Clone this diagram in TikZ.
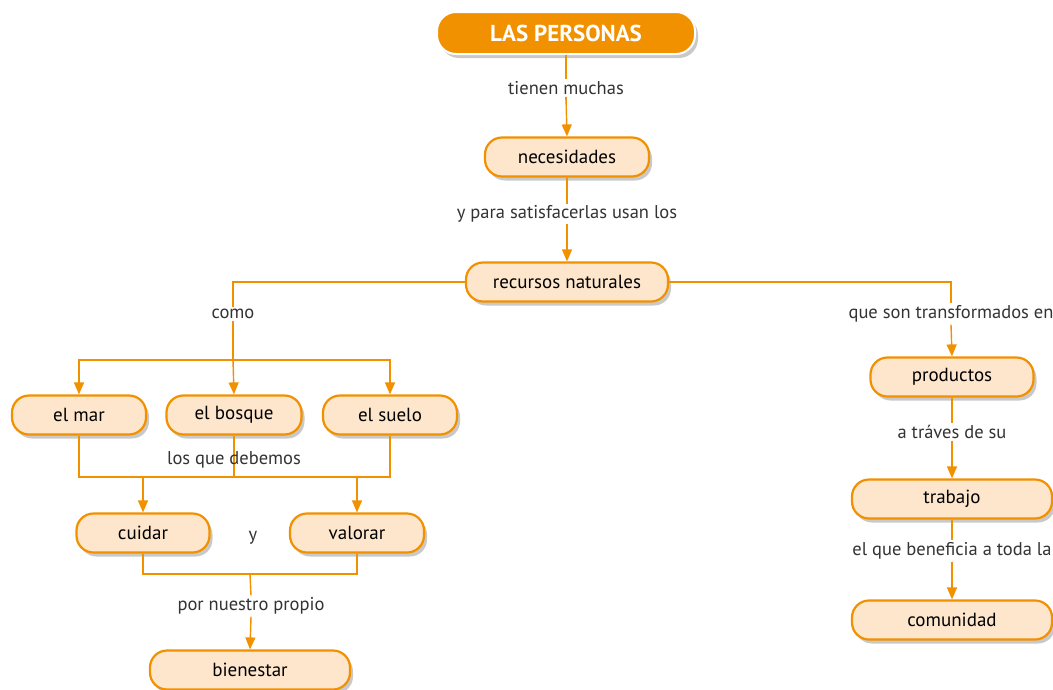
\documentclass[tikz,border=0pt]{standalone}
\usepackage{fontspec}
\setmainfont{PT Sans}
\usetikzlibrary{arrows.meta,shadows}
\definecolor{orng}{HTML}{F29100}
\definecolor{peach}{HTML}{FDE6CC}
\definecolor{lbl}{HTML}{333333}
\tikzset{
  box/.style={draw=orng, line width=2.2pt, fill=peach, rounded corners=17pt,
    minimum height=39pt, inner sep=0pt, text=black,
    font=\fontsize{19}{22}\selectfont,
    drop shadow={shadow xshift=3pt, shadow yshift=-4pt, opacity=0.35, fill=black!60}},
  topbox/.style={draw=white, line width=2pt, fill=orng, rounded corners=19pt,
    minimum width=258pt, minimum height=42pt, inner sep=0pt, text=white,
    font=\fontsize{23}{26}\selectfont\bfseries,
    drop shadow={shadow xshift=3pt, shadow yshift=-4pt, opacity=0.35, fill=black!60}},
  lab/.style={text=lbl, font=\fontsize{18.5}{21}\selectfont, inner sep=2pt},
  labw/.style={lab, fill=white},
  conn/.style={draw=orng, line width=1.4pt},
  arr/.style={conn, -{Triangle[width=10pt,length=12pt]}},
}
\begin{document}
\begin{tikzpicture}[x=1pt,y=-1pt]
\useasboundingbox (0,0) rectangle (1053,689);
\fill[white] (0,0) rectangle (1053,689);

% nodes
\node[topbox] (per) at (566,33) {LAS PERSONAS};
\node[box, minimum width=164pt] (nec) at (567,157) {necesidades};
\node[box, minimum width=202pt] (rec) at (567,282) {recursos naturales};
\node[box, minimum width=134pt] (mar) at (79,415) {el mar};
\node[box, minimum width=135pt] (bos) at (234,415) {el bosque};
\node[box, minimum width=134pt] (sue) at (390,415) {el suelo};
\node[box, minimum width=133pt] (cui) at (143,533) {cuidar};
\node[box, minimum width=134pt] (val) at (357,533) {valorar};
\node[box, minimum width=200pt] (bie) at (250,670) {bienestar};
\node[box, minimum width=163pt] (pro) at (952,377) {productos};
\node[box, minimum width=200pt] (tra) at (952,499) {trabajo};
\node[box, minimum width=200pt] (com) at (952,620) {comunidad};

% coordinates
\coordinate (jL) at (233,360);
\coordinate (jD) at (234,477);
\coordinate (jB) at (250,574);

% connectors and labels
\draw[conn] (per.south) -- (566,100);
\node[labw] (l1) at (566,88) {tienen muchas};
\draw[arr] (l1.south) -- (nec.north);

\draw[conn] (nec.south) -- (567,225);
\node[labw] (l2) at (567,214) {y para satisfacerlas usan los};
\draw[arr] (l2.south) -- (rec.north);

\node[labw] (l3) at (233,314) {como};
\draw[conn] (rec.west) -| (l3.north);
\draw[conn] (l3.south) -- (jL);
\draw[arr] (jL) -| (mar.north);
\draw[arr] (jL) -- (bos.north);
\draw[arr] (jL) -| (sue.north);

\node[labw] (l4) at (951,314) {que son transformados en};
\draw[conn] (rec.east) -| (l4.north);
\draw[arr] (l4.south) -- (pro.north);

\draw[conn] (mar.south) |- (jD);
\draw[conn] (sue.south) |- (jD);
\draw[conn] (bos.south) -- (jD);
\node[lab] (l5) at (234,460) {los que debemos};
\draw[arr] (cui.north |- jD) -- (cui.north);
\draw[arr] (val.north |- jD) -- (val.north);

\node[lab] (y) at (253,538) {y};

\draw[conn] (cui.south) |- (jB);
\draw[conn] (val.south) |- (jB);
\node[labw] (l6) at (251,606) {por nuestro propio};
\draw[conn] (jB) -- (l6.north);
\draw[arr] (l6.south) -- (bie.north);

\node[labw] (l7) at (952,432) {a tráves de su};
\draw[conn] (pro.south) -- (l7.north);
\draw[arr] (l7.south) -- (tra.north);

\node[labw] (l8) at (952,551) {el que beneficia a toda la};
\draw[conn] (tra.south) -- (l8.north);
\draw[arr] (l8.south) -- (com.north);
\end{tikzpicture}
\end{document}
